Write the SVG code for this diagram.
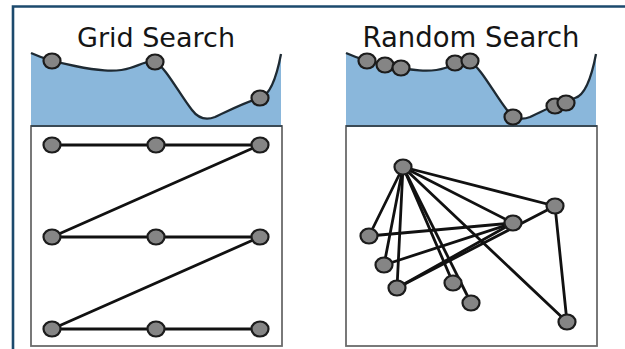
<svg xmlns="http://www.w3.org/2000/svg" xmlns:xlink="http://www.w3.org/1999/xlink" width="625" height="349" viewBox="0 0 625 349">
  <style>
    .title { font-family: "DejaVu Sans", sans-serif; font-size: 27px; fill: #151515; text-anchor: middle; }
    .area { fill: #8ab7db; }
    .curve { fill: none; stroke: #1e2a33; stroke-width: 2.3; }
    .panel { fill: none; stroke: #6b6b6b; stroke-width: 1.8; }
    .edge { stroke: #111; stroke-width: 2.8; fill: none; stroke-linecap: round; }
    .pt { fill: #858585; stroke: #1c1c1c; stroke-width: 2.2; }
    .frame { stroke: #1c4a6d; stroke-width: 2.6; fill: none; }
  </style>
  <defs>
    <!-- objective curve shared by both panels -->
    <path id="objective" d="M31,53 C44,59 60,63 75,66 C95,70 115,73 130,68 C140,65 148,60 155,62 C165,66 180,95 192,110 C198,118 205,121 215,117 C230,110 245,102 260,98 C271,95 277,75 281,54"/>
  </defs>

  <rect width="625" height="349" fill="#ffffff"/>
  <path class="frame" d="M13,349 V6.5 H625"/>

  <!-- Grid search panel -->
  <g id="grid-search">
    <text class="title" x="156" y="47">Grid Search</text>
    <path class="area" d="M31,53 C44,59 60,63 75,66 C95,70 115,73 130,68 C140,65 148,60 155,62 C165,66 180,95 192,110 C198,118 205,121 215,117 C230,110 245,102 260,98 C271,95 277,75 281,54 V126 H31 Z"/>
    <use href="#objective" xlink:href="#objective" class="curve"/>
    <rect class="panel" x="31" y="126" width="251" height="220"/>
    <line x1="31" y1="126" x2="282" y2="126" stroke="#3a4a55" stroke-width="2"/>
  </g>

  <!-- Random search panel -->
  <g id="random-search">
    <text class="title" x="471" y="47" style="font-size:27.5px">Random Search</text>
    <path class="area" transform="translate(315,0)" d="M31,53 C44,59 60,63 75,66 C95,70 115,73 130,68 C140,65 148,60 155,62 C165,66 180,95 192,110 C198,118 205,121 215,117 C230,110 245,102 260,98 C271,95 277,75 281,54 V126 H31 Z"/>
    <use href="#objective" xlink:href="#objective" class="curve" transform="translate(315,0)"/>
    <rect class="panel" x="346" y="126" width="251" height="220"/>
    <line x1="346" y1="126" x2="597" y2="126" stroke="#3a4a55" stroke-width="2"/>
  </g>

  <!-- connectors -->
  <g id="connectors">
    <!-- grid search sweep -->
    <path class="edge" d="M52,145 H260 L52,237 H260 L52,329 H260"/>
    <!-- random search samples -->
    <line class="edge" x1="403" y1="167" x2="369" y2="236"/>
    <line class="edge" x1="403" y1="167" x2="384" y2="265"/>
    <line class="edge" x1="403" y1="167" x2="397" y2="288"/>
    <line class="edge" x1="403" y1="167" x2="453" y2="283"/>
    <line class="edge" x1="403" y1="167" x2="471" y2="303"/>
    <line class="edge" x1="403" y1="167" x2="513" y2="223"/>
    <line class="edge" x1="403" y1="167" x2="555" y2="206"/>
    <line class="edge" x1="403" y1="167" x2="567" y2="322"/>
    <line class="edge" x1="369" y1="236" x2="513" y2="223"/>
    <line class="edge" x1="384" y1="265" x2="513" y2="223"/>
    <line class="edge" x1="397" y1="288" x2="513" y2="223"/>
    <line class="edge" x1="397" y1="288" x2="555" y2="206"/>
    <line class="edge" x1="555" y1="206" x2="567" y2="322"/>
  </g>

  <!-- grid search samples on the curve -->
  <g id="grid-curve-points">
    <ellipse class="pt" cx="52" cy="61" rx="8.5" ry="7.5"/>
    <ellipse class="pt" cx="155" cy="62" rx="8.5" ry="7.5"/>
    <ellipse class="pt" cx="260" cy="98" rx="8.5" ry="7.5"/>
  </g>

  <!-- grid search parameter points -->
  <g id="grid-points">
    <ellipse class="pt" cx="52" cy="145" rx="8.5" ry="7.5"/>
    <ellipse class="pt" cx="156" cy="145" rx="8.5" ry="7.5"/>
    <ellipse class="pt" cx="260" cy="145" rx="8.5" ry="7.5"/>
    <ellipse class="pt" cx="52" cy="237" rx="8.5" ry="7.5"/>
    <ellipse class="pt" cx="156" cy="237" rx="8.5" ry="7.5"/>
    <ellipse class="pt" cx="260" cy="237" rx="8.5" ry="7.5"/>
    <ellipse class="pt" cx="52" cy="329" rx="8.5" ry="7.5"/>
    <ellipse class="pt" cx="156" cy="329" rx="8.5" ry="7.5"/>
    <ellipse class="pt" cx="260" cy="329" rx="8.5" ry="7.5"/>
  </g>

  <!-- random search samples on the curve -->
  <g id="random-curve-points">
    <ellipse class="pt" cx="367" cy="61" rx="8.5" ry="7.5"/>
    <ellipse class="pt" cx="385" cy="65" rx="8.5" ry="7.5"/>
    <ellipse class="pt" cx="401" cy="68" rx="8.5" ry="7.5"/>
    <ellipse class="pt" cx="455" cy="63" rx="8.5" ry="7.5"/>
    <ellipse class="pt" cx="470" cy="61" rx="8.5" ry="7.5"/>
    <ellipse class="pt" cx="513" cy="117" rx="8.5" ry="7.5"/>
    <ellipse class="pt" cx="555" cy="106" rx="8.5" ry="7.5"/>
    <ellipse class="pt" cx="566" cy="103" rx="8.5" ry="7.5"/>
  </g>

  <!-- random search parameter points -->
  <g id="random-points">
    <ellipse class="pt" cx="403" cy="167" rx="8.5" ry="7.5"/>
    <ellipse class="pt" cx="369" cy="236" rx="8.5" ry="7.5"/>
    <ellipse class="pt" cx="384" cy="265" rx="8.5" ry="7.5"/>
    <ellipse class="pt" cx="397" cy="288" rx="8.5" ry="7.5"/>
    <ellipse class="pt" cx="453" cy="283" rx="8.5" ry="7.5"/>
    <ellipse class="pt" cx="471" cy="303" rx="8.5" ry="7.5"/>
    <ellipse class="pt" cx="513" cy="223" rx="8.5" ry="7.5"/>
    <ellipse class="pt" cx="555" cy="206" rx="8.5" ry="7.5"/>
    <ellipse class="pt" cx="567" cy="322" rx="8.5" ry="7.5"/>
  </g>
</svg>
